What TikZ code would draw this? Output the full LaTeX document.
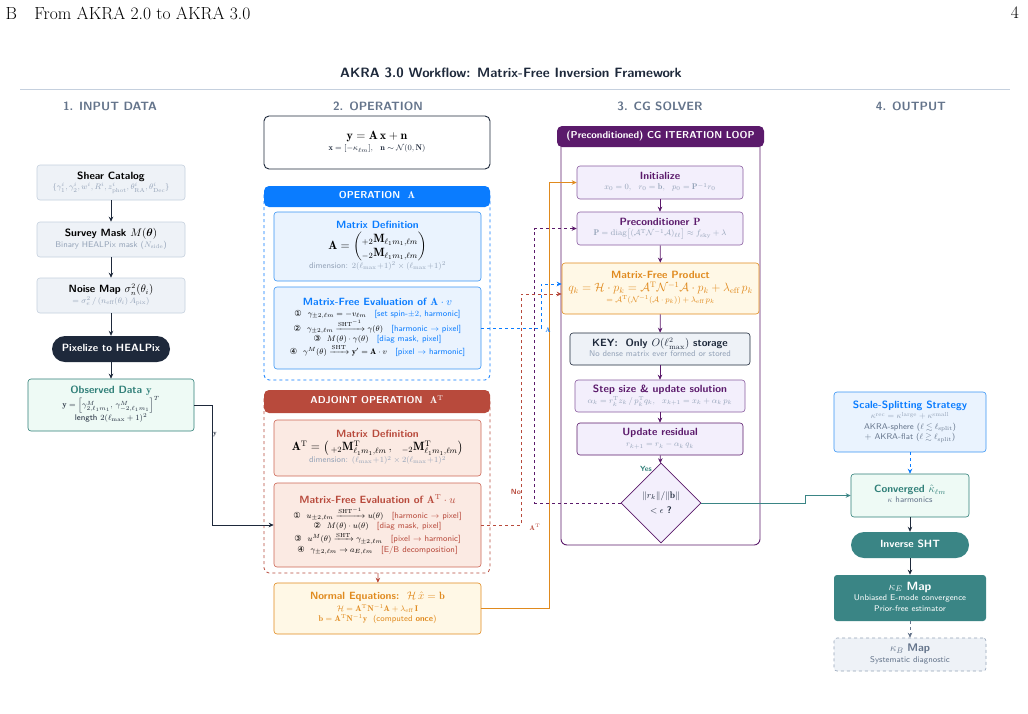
\documentclass[tikz,border=0pt]{standalone}
\usepackage{amsmath,amssymb}
\usepackage{fontspec}
\newfontfamily\dv{DejaVu Sans}
\usetikzlibrary{arrows.meta,shapes.geometric,calc}
\definecolor{navy}{HTML}{1E293B}
\definecolor{gF}{HTML}{EEF2F7}
\definecolor{gB}{HTML}{C5D0DE}
\definecolor{gT}{HTML}{94A3B8}
\definecolor{hT}{HTML}{64748B}
\definecolor{teal}{HTML}{3A8585}
\definecolor{tealF}{HTML}{EEFAF5}
\definecolor{tealT}{HTML}{2F7F78}
\definecolor{bl}{HTML}{0A7CFF}
\definecolor{blF}{HTML}{EAF3FE}
\definecolor{bl2}{HTML}{3A95F5}
\definecolor{rd}{HTML}{B84A3C}
\definecolor{rdF}{HTML}{FBEAE3}
\definecolor{rd2}{HTML}{CC6655}
\definecolor{orn}{HTML}{E08A1E}
\definecolor{ornF}{HTML}{FFF8E6}
\definecolor{pu}{HTML}{5B1A6B}
\definecolor{puF}{HTML}{F3EFFC}
\definecolor{pu2}{HTML}{8A5CA0}
\newcommand\stk[1]{\begin{tabular}{@{}c@{}}#1\end{tabular}}
\newcommand\bx[7]{\node[#6,minimum width={#4-#2},minimum height={#5-#3}] (#1) at ({(#2+#4)/2},{(#3+#5)/2}) {\stk{#7}};}
\newcommand\sm{\fontsize{8.3}{9.5}\selectfont}
\newcommand\md{\fontsize{10.5}{12.5}\selectfont}
\newcommand\bg{\fontsize{12}{14}\selectfont}
\tikzset{
 base/.style={rounded corners=3pt,inner sep=1pt,align=center,font=\sffamily\fontsize{8.3}{10.5}\selectfont},
 greybox/.style={base,draw=gB,fill=gF,line width=0.6pt},
 arr/.style={-{Stealth[length=5pt,width=4.5pt]},line width=0.8pt,navy},
 tip/.style={-{Stealth[length=5pt,width=4.5pt]}},
 colhead/.style={font=\sffamily\bfseries\fontsize{12}{14}\selectfont,text=hT},
}
\begin{document}
\begin{tikzpicture}[x=1pt,y=-1pt]
\useasboundingbox (0,0) rectangle (1028,713);
\fill[white] (0,0) rectangle (1028,713);
\node[anchor=west,font=\fontsize{17.5}{20}\selectfont] (hdr) at (2,13) {B\quad From AKRA 2.0 to AKRA 3.0};
\node[font=\fontsize{17.5}{20}\selectfont] (pg) at (1015,13) {4};
\node[font=\sffamily\bfseries\fontsize{13.5}{15}\selectfont,text=navy] (title) at (511,73) {AKRA 3.0 Workflow: Matrix-Free Inversion Framework};
\draw[gB,line width=0.5pt] (20,89) -- (1010,89);
\node[colhead] (h1) at (110,106) {1. INPUT DATA};
\node[colhead] (h2) at (378,106) {2. OPERATION};
\node[colhead] (h3) at (660,106) {3. CG SOLVER};
\node[colhead] (h4) at (911,106) {4. OUTPUT};

% column 1
\bx{sc}{37}{165}{185}{200}{greybox}{{\md\bfseries Shear Catalog}\\{\sm\color{gT}$\{\gamma_1^i,\gamma_2^i,w^i,R^i,z^i_{\mathrm{phot}},\theta^i_{\mathrm{RA}},\theta^i_{\mathrm{Dec}}\}$}}
\bx{sm}{37}{222}{185}{257}{greybox}{{\md\bfseries Survey Mask $M(\boldsymbol\theta)$}\\{\sm\color{gT}Binary HEALPix mask ($N_{\mathrm{side}}$)}}
\bx{nm}{37}{278}{185}{313}{greybox}{{\md\bfseries Noise Map $\sigma_n^2(\theta_i)$}\\{\sm\color{gT}$=\sigma_e^2\,/\,(n_{\mathrm{eff}}(\theta_i)\,A_{\mathrm{pix}})$}}
\bx{px}{52}{336}{170}{362}{base,fill=navy,rounded corners=13pt,text=white,font=\sffamily\bfseries\fontsize{10.5}{12}\selectfont}{Pixelize to HEALPix}
\bx{obs}{28}{379}{194}{431}{base,draw=tealT,fill=tealF,line width=0.6pt}{{\md\bfseries\color{tealT}Observed Data $\mathbf{y}$}\\{\sm\color{navy}$\mathbf y=\left[\gamma^M_{2,\ell_1m_1},\,\gamma^M_{-2,\ell_1m_1}\right]^T$}\\{\sm\color{navy}length $2(\ell_{\max}+1)^2$}}
\draw[arr] (sc) -- (sm);
\draw[arr] (sm) -- (nm);
\draw[arr] (nm) -- (px);
\draw[arr] (px) -- (obs);

% column 2
\bx{eq}{264}{116}{490}{169}{base,draw=navy,line width=0.9pt,rounded corners=5pt}{{\bg$\mathbf y=\mathbf A\,\mathbf x+\mathbf n$}\\[1pt]{\sm\color{navy}$\mathbf x=[-\kappa_{\ell m}],\ \ \mathbf n\sim\mathcal N(0,\mathbf N)$}}
\draw[bl,dashed,line width=0.8pt,rounded corners=5pt] (264,190) rectangle (490,380);
\bx{opa}{264}{186}{490}{207}{base,fill=bl,rounded corners=5pt,text=white,font=\sffamily\bfseries\fontsize{10}{12}\selectfont}{OPERATION\ \ $\mathbf A$}
\bx{mda}{274}{212}{481}{281}{base,draw=bl2,fill=blF,line width=0.6pt}{{\md\bfseries\color{bl}Matrix Definition}\\{\bg$\mathbf A=\begin{pmatrix}{}_{+2}\mathbf M_{\ell_1m_1,\ell m}\\{}_{-2}\mathbf M_{\ell_1m_1,\ell m}\end{pmatrix}$}\\{\sm\color{gT}dimension: $2(\ell_{\max}\!+\!1)^2\times(\ell_{\max}\!+\!1)^2$}}
\bx{mfa}{274}{287}{481}{369}{base,draw=bl2,fill=blF,line width=0.6pt}{{\md\bfseries\color{bl}Matrix-Free Evaluation of $\mathbf A\cdot v$}\\
{\sm{\dv①}\ \ $\gamma_{\pm2,\ell m}=-v_{\ell m}$\quad{\color{bl}[set spin-$\pm2$, harmonic]}}\\
{\sm{\dv②}\ \ $\gamma_{\pm2,\ell m}\xrightarrow{\mathrm{SHT}^{-1}}\gamma(\theta)$\quad{\color{bl}[harmonic $\to$ pixel]}}\\
{\sm{\dv③}\ \ $M(\theta)\cdot\gamma(\theta)$\quad{\color{bl}[diag mask, pixel]}}\\
{\sm{\dv④}\ \ $\gamma^M(\theta)\xrightarrow{\mathrm{SHT}}\mathbf y'=\mathbf A\cdot v$\quad{\color{bl}[pixel $\to$ harmonic]}}}

\draw[rd,dashed,line width=0.8pt,rounded corners=5pt] (264,394) rectangle (490,573);
\bx{opt}{264}{390}{490}{413}{base,fill=rd,rounded corners=5pt,text=white,font=\sffamily\bfseries\fontsize{10}{12}\selectfont}{ADJOINT OPERATION\ \ $\mathbf A^{\mathrm T}$}
\bx{mdt}{274}{420}{481}{476}{base,draw=rd2,fill=rdF,line width=0.6pt}{{\md\bfseries\color{rd}Matrix Definition}\\{\bg$\mathbf A^{\mathrm T}=\big(\,{}_{+2}\mathbf M^{\mathrm T}_{\ell_1m_1,\ell m}\,,\ \ {}_{-2}\mathbf M^{\mathrm T}_{\ell_1m_1,\ell m}\big)$}\\{\sm\color{gT}dimension: $(\ell_{\max}\!+\!1)^2\times2(\ell_{\max}\!+\!1)^2$}}
\bx{mft}{274}{483}{481}{567}{base,draw=rd2,fill=rdF,line width=0.6pt}{{\md\bfseries\color{rd}Matrix-Free Evaluation of $\mathbf A^{\mathrm T}\cdot u$}\\
{\sm{\dv①}\ \ $u_{\pm2,\ell m}\xrightarrow{\mathrm{SHT}^{-1}}u(\theta)$\quad{\color{rd}[harmonic $\to$ pixel]}}\\
{\sm{\dv②}\ \ $M(\theta)\cdot u(\theta)$\quad{\color{rd}[diag mask, pixel]}}\\
{\sm{\dv③}\ \ $u^M(\theta)\xrightarrow{\mathrm{SHT}}\gamma_{\pm2,\ell m}$\quad{\color{rd}[pixel $\to$ harmonic]}}\\
{\sm{\dv④}\ \ $\gamma_{\pm2,\ell m}\to a_{E,\ell m}$\quad{\color{rd}[E/B decomposition]}}}
\bx{ne}{274}{583}{481}{634}{base,draw=orn,fill=ornF,line width=0.6pt}{{\md\bfseries\color{orn}Normal Equations:\ \ $\mathcal H\,\hat x=\mathbf b$}\\[1pt]{\sm\color{orn}$\mathcal H=\mathbf A^{\mathrm T}\mathbf N^{-1}\mathbf A+\lambda_{\mathrm{eff}}\,\mathbf I$}\\{\sm\color{orn}$\mathbf b=\mathbf A^{\mathrm T}\mathbf N^{-1}\mathbf y$\ \ (computed \textbf{once})}}
\coordinate (adjb) at (378,573);
\draw[tip,rd,line width=0.7pt] (adjb) -- (ne);

% column 3
\draw[pu,line width=0.9pt,rounded corners=6pt] (561,135) rectangle (760,545);
\bx{cgh}{557}{126}{764}{147}{base,fill=pu,rounded corners=5pt,text=white,font=\sffamily\bfseries\fontsize{10}{12}\selectfont}{(Preconditioned) CG ITERATION LOOP}
\bx{ini}{577}{166}{743}{199}{base,draw=pu2,fill=puF,line width=0.6pt}{{\md\bfseries\color{pu}Initialize}\\{\sm\color{gT}$x_0=0,\ \ r_0=\mathbf b,\ \ p_0=\mathbf P^{-1}r_0$}}
\bx{pre}{577}{212}{743}{245}{base,draw=pu2,fill=puF,line width=0.6pt}{{\md\bfseries\color{pu}Preconditioner $\mathbf P$}\\{\sm\color{gT}$\mathbf P=\mathrm{diag}\big[(\mathcal A^{\mathrm T}\mathcal N^{-1}\mathcal A)_{\ell\ell}\big]\approx f_{\mathrm{sky}}+\lambda$}}
\bx{mfp}{562}{263}{759}{314}{base,draw=orn,fill=ornF,line width=0.6pt}{{\md\bfseries\color{orn}Matrix-Free Product}\\{\fontsize{11.5}{13}\selectfont\color{orn}$q_k=\mathcal H\cdot p_k=\mathcal A^{\mathrm T}\mathcal N^{-1}\mathcal A\cdot p_k+\lambda_{\mathrm{eff}}\,p_k$}\\{\sm\color{orn}$=\mathcal A^{\mathrm T}(\mathcal N^{-1}(\mathcal A\cdot p_k))+\lambda_{\mathrm{eff}}\,p_k$}}
\bx{key}{570}{333}{750}{365}{base,draw=navy,fill=gF,line width=0.6pt}{{\md\bfseries\color{navy}KEY:\ \ Only $O(\ell_{\max}^2)$ storage}\\{\sm\color{gT}No dense matrix ever formed or stored}}
\bx{stp}{575}{380}{745}{412}{base,draw=pu2,fill=puF,line width=0.6pt}{{\md\bfseries\color{pu}Step size \& update solution}\\{\sm\color{gT}$\alpha_k=r_k^{\mathrm T}z_k\,/\,p_k^{\mathrm T}q_k,\ \ x_{k+1}=x_k+\alpha_k\,p_k$}}
\bx{upd}{577}{423}{743}{455}{base,draw=pu,fill=puF,line width=0.6pt}{{\md\bfseries\color{pu}Update residual}\\[1pt]{\sm\color{gT}$r_{k+1}=r_k-\alpha_k\,q_k$}}
\node[diamond,draw=pu,fill=puF,line width=0.8pt,minimum width=80,minimum height=80,inner sep=0pt,align=center,font=\sffamily\fontsize{9.5}{13}\selectfont,text=navy] (dia) at (661,503) {\stk{$\|r_k\|/\|\mathbf b\|$\\[2pt]$<\epsilon$ \textbf{?}}};
\node[font=\sffamily\bfseries\fontsize{7.5}{8}\selectfont,text=tealT] (yes) at (646,469) {Yes};
\draw[tip,pu,line width=0.7pt] (ini) -- (pre);
\draw[tip,pu,line width=0.7pt] (pre) -- (mfp);
\draw[tip,pu,line width=0.7pt] (mfp) -- (key);
\draw[tip,pu,line width=0.7pt] (key) -- (stp);
\draw[tip,pu,line width=0.7pt] (stp) -- (upd);
\draw[tip,pu,line width=0.7pt] (upd) -- (dia);

% column 4
\bx{ssp}{834}{392}{986}{452}{base,draw=bl2,fill=blF,line width=0.6pt}{{\md\bfseries\color{bl}Scale-Splitting Strategy}\\{\sm\color{gT}$\kappa^{\mathrm{rec}}=\kappa^{\mathrm{large}}+\kappa^{\mathrm{small}}$}\\{\sm\color{hT}AKRA-sphere ($\ell\lesssim\ell_{\mathrm{split}}$)}\\{\sm\color{hT}+ AKRA-flat ($\ell\gtrsim\ell_{\mathrm{split}}$)}}
\bx{conv}{851}{474}{969}{517}{base,draw=tealT,fill=tealF,line width=0.6pt}{{\md\bfseries\color{tealT}Converged $\hat\kappa_{\ell m}$}\\{\sm\color{hT}$\kappa$ harmonics}}
\bx{ish}{851}{532}{969}{558}{base,fill=teal,rounded corners=13pt,text=white,font=\sffamily\bfseries\fontsize{10.5}{12}\selectfont}{Inverse SHT}
\bx{ke}{834}{575}{986}{621}{base,fill=teal,text=white,line width=0.6pt}{{\bg$\kappa_E$ \textbf{Map}}\\{\sm Unbiased E-mode convergence}\\{\sm Prior-free estimator}}
\bx{kb}{834}{638}{986}{671}{base,draw=gT,dashed,fill=gF,line width=0.6pt}{{\fontsize{11}{12}\selectfont\color{hT}$\kappa_B$ \textbf{Map}}\\{\sm\color{hT}Systematic diagnostic}}
\draw[tip,bl,dashed,line width=0.7pt] (ssp) -- (conv);
\draw[arr] (conv) -- (ish);
\draw[arr] (ish) -- (ke);
\draw[tip,hT,dashed,line width=0.7pt] (ke) -- (kb);

% cross connectors
\draw[tip,orn,line width=0.8pt] (ne.east) -- ++(68,0) |- (ini.west);
\draw[tip,pu,dashed,line width=0.7pt] (dia.west) -- ++(-86,0) |- (pre.west);
\draw[tip,bl,dashed,line width=0.7pt] (mfa.east) -- ++(60,0) |- ($(mfp.west)+(0,-4.5)$);
\draw[tip,rd,dashed,line width=0.7pt] (mft.east) -- ++(40,0) |- ($(mfp.west)+(0,5.5)$);
\draw[tip,teal,line width=0.8pt] (dia.east) -- ++(104,0) |- (conv.west);
\draw[arr] (obs.east) -- ++(18,0) |- (mft.west);
\node[font=\fontsize{7}{8}\selectfont,text=navy] (ly) at (215,435) {$\mathbf y$};
\node[font=\fontsize{7}{8}\selectfont,text=bl] (la) at (548,330) {$\mathbf A$};
\node[font=\fontsize{7}{8}\selectfont,text=rd] (lat) at (535,527) {$\mathbf A^{\mathrm T}$};
\node[font=\sffamily\bfseries\fontsize{7.5}{8}\selectfont,text=rd] (no) at (516,492) {No};
\end{tikzpicture}
\end{document}
